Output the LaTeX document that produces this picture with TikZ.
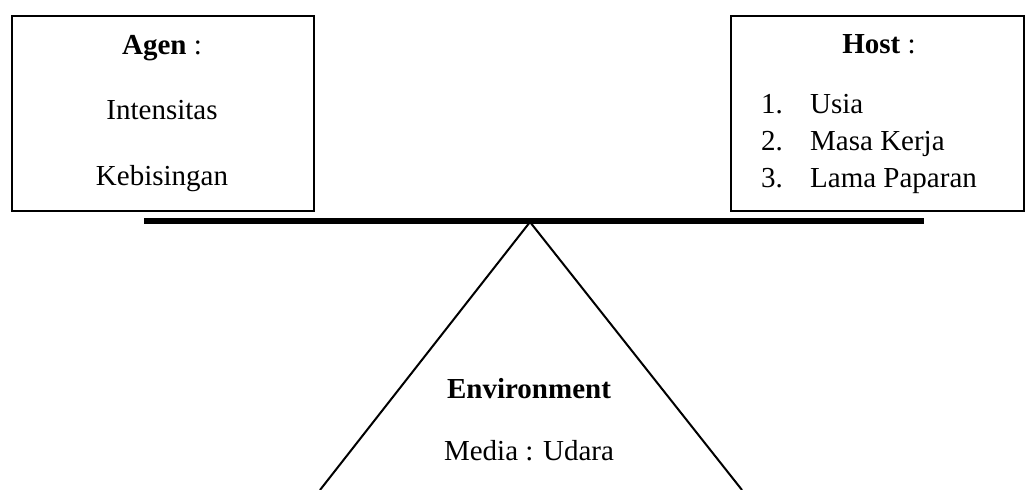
\documentclass[tikz,border=0pt]{standalone}
\usepackage{fontspec}
\setmainfont{Liberation Serif}
\begin{document}
\begin{tikzpicture}[x=1pt,y=-1pt,
  boxstyle/.style={draw,line width=2pt,inner sep=0pt},
  txt/.style={inner sep=0pt,anchor=base,font=\fontsize{29}{34}\selectfont},
  txtl/.style={inner sep=0pt,anchor=base west,font=\fontsize{29}{34}\selectfont},
  edge/.style={line width=2pt}]
\useasboundingbox (0,0) rectangle (1026,490);
% boxes
\node[boxstyle,minimum width=302pt,minimum height=195pt] (agen) at (162.5,113) {};
\node[boxstyle,minimum width=293pt,minimum height=195pt] (host) at (877.5,113) {};
% beam
\coordinate (beamL) at (144,221);
\coordinate (beamR) at (924,221);
\draw[line width=6pt] (beamL) -- (beamR);
% fulcrum
\coordinate (apex) at (530,222);
\coordinate (baseL) at (320,490);
\coordinate (baseR) at (742,490);
\draw[edge,line join=miter] (baseL) -- (apex) -- (baseR);
% agent text
\node[txt] (agt) at (162,54) {\textbf{Agen} :};
\node[txt] (ag1) at (162,119) {Intensitas};
\node[txt] (ag2) at (162,185) {Kebisingan};
% host text
\node[txt] (hst) at (879,53) {\textbf{Host} :};
\node[txtl] (n1) at (761,113) {1.};
\node[txtl] (h1) at (810,113) {Usia};
\node[txtl] (n2) at (761,150) {2.};
\node[txtl] (h2) at (810,150) {Masa Kerja};
\node[txtl] (n3) at (761,187) {3.};
\node[txtl] (h3) at (810,187) {Lama Paparan};
% environment
\node[txt] (env) at (529,398) {\textbf{Environment}};
\node[txt] (med) at (529,460) {Media : Udara};
\end{tikzpicture}
\end{document}
